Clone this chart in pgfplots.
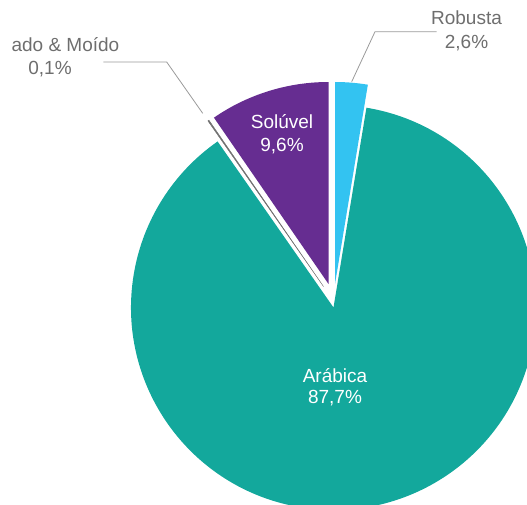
\documentclass[border=0pt]{standalone}
\usepackage{pgfplots}
\pgfplotsset{compat=1.18}
\usepackage{fontspec}
\setmainfont{Liberation Sans}

\definecolor{cRob}{HTML}{33C3F1}
\definecolor{cAra}{HTML}{13A89C}
\definecolor{cTor}{HTML}{707070}
\definecolor{cSol}{HTML}{662D91}
\definecolor{cLbl}{HTML}{6E6E6E}
\definecolor{cLead}{HTML}{9A9A9A}

% shares in percent
\def\vRob{2.6}
\def\vAra{87.7}
\def\vTor{0.1}
\def\vSol{9.6}
\def\R{202pt}

\begin{document}
\begin{tikzpicture}
% slice angles, clockwise from 12 o'clock
\pgfmathsetmacro\aA{90}
\pgfmathsetmacro\aB{\aA-3.6*\vRob}
\pgfmathsetmacro\aC{\aB-3.6*\vAra}
\pgfmathsetmacro\aD{\aC-3.6*\vTor}
\pgfmathsetmacro\aE{\aD-3.6*\vSol}
\begin{axis}[
    x=1pt, y=1pt,
    xmin=0, xmax=527, ymin=0, ymax=504,
    hide axis,
    enlargelimits=false,
    clip=true,
]
% exploded slices
\fill[cRob] (axis cs:335,220) -- ++(\aA:\R) arc[start angle=\aA, end angle=\aB, radius=\R] -- cycle;
\fill[cAra] (axis cs:333.5,196.5) -- ++(\aB:202.5pt) arc[start angle=\aB, end angle=\aC, radius=202.5pt] -- cycle;
\filldraw[cTor, line width=0.35pt] (axis cs:323.5,217.5) -- ++(\aC:\R) arc[start angle=\aC, end angle=\aD, radius=\R] -- cycle;
\fill[cSol] (axis cs:328.5,220) -- ++(\aD:\R) arc[start angle=\aD, end angle=\aE, radius=\R] -- cycle;

% leader lines
\draw[cLead, line width=0.8pt] (axis cs:351.7,422.3) -- (axis cs:375,472.3) -- (axis cs:436.7,472.3);
\draw[cLead, line width=0.8pt] (axis cs:202.7,390.7) -- (axis cs:166.7,442) -- (axis cs:103.3,442);

% labels
\begin{scope}[every node/.style={anchor=base, inner sep=0pt, font=\fontsize{19}{22}\selectfont}]
\node[cLbl] at (axis cs:466.5,479) {Robusta};
\node[cLbl] at (axis cs:466.5,455.7) {2,6\%};
\node[cLbl, anchor=base east] at (axis cs:119.5,452.3) {ado \& Moído};
\node[cLbl] at (axis cs:50,429) {0,1\%};
\node[white] at (axis cs:282,375.7) {Solúvel};
\node[white] at (axis cs:282,352) {9,6\%};
\node[white] at (axis cs:335,121.7) {Arábica};
\node[white] at (axis cs:335,100.7) {87,7\%};
\end{scope}
\end{axis}
\pgfresetboundingbox
\useasboundingbox (current axis.south west) rectangle (current axis.north east);
\end{tikzpicture}
\end{document}
